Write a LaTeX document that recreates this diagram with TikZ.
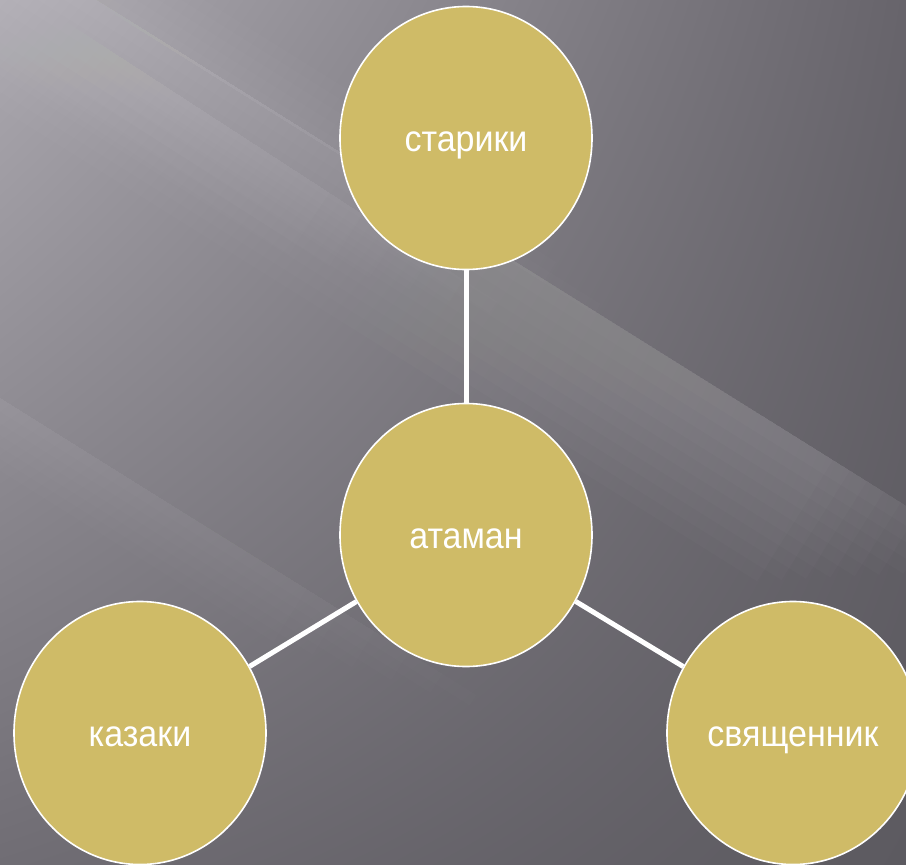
\documentclass[tikz,border=0pt]{standalone}
\usepackage{fontspec}
\usepackage{graphicx}
\setmainfont{Liberation Sans}
\usetikzlibrary{shapes.geometric,shadings}
\definecolor{gold}{RGB}{207,187,103}
\definecolor{bgul}{RGB}{172,169,176}
\definecolor{bgur}{RGB}{103,100,107}
\definecolor{bgll}{RGB}{112,109,116}
\definecolor{bglr}{RGB}{92,90,96}
\newcommand{\lbl}[1]{\scalebox{1}[1.08]{#1}}
\tikzset{
  bubble/.style={ellipse, draw=white, line width=1.6pt, fill=gold, minimum width=252pt, minimum height=263pt, inner sep=0pt, text=white, font=\fontsize{34}{40}\selectfont, text height=27pt, text depth=0pt},
  link/.style={draw=white, line width=5pt}
}
\begin{document}
\begin{tikzpicture}[x=1pt, y=-1pt]
\useasboundingbox (0,0) rectangle (906,865);
\clip (0,0) rectangle (906,865);
\shade[upper left=bgul, upper right=bgur, lower left=bgll, lower right=bglr] (0,0) rectangle (906,865);
% main light streak (sharp upper edge, fading downwards)
\begin{scope}[shift={(560,293)}, rotate=-32]
  \foreach \k in {1,...,10} {
    \fill[white, opacity=0.016] (-900,-3) rectangle (520-20*\k, 14*\k);
  }
  \foreach \k in {1,...,5} {
    \fill[white, opacity=0.012] (-900,-12*\k) rectangle (100-60*\k, 0);
  }
\end{scope}
% faint lower-left streak
\begin{scope}[shift={(0,400)}, rotate=-32]
  \foreach \k in {1,...,6} {
    \fill[white, opacity=0.012] (-200,-2) rectangle (600-40*\k, 10*\k);
  }
\end{scope}
% faint top-left streaks
\begin{scope}[shift={(60,20)}, rotate=-33]
  \foreach \k in {1,...,6} {
    \fill[white, opacity=0.012] (-300,-2) rectangle (560-40*\k, 12*\k);
  }
\end{scope}
\node[bubble] (top) at (466,138) {\lbl{старики}};
\node[bubble] (mid) at (466,535) {\lbl{атаман}};
\node[bubble] (left) at (140,733) {\lbl{казаки}};
\node[bubble] (right) at (793,733) {\lbl{священник}};
\draw[link] (top) -- (mid);
\draw[link] (mid) -- (left);
\draw[link] (mid) -- (right);
\end{tikzpicture}
\end{document}
